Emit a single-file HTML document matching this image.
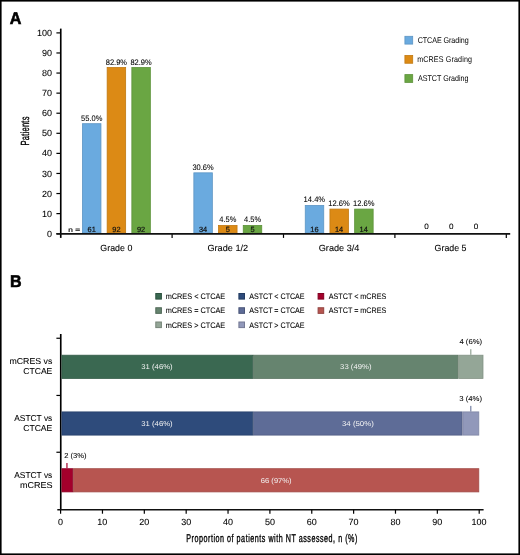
<!DOCTYPE html>
<html><head><meta charset="utf-8"><style>
html,body{margin:0;padding:0;background:#fff;}
svg{display:block;font-family:"Liberation Sans", sans-serif;will-change:transform;text-rendering:geometricPrecision;}
</style></head><body>
<svg width="520" height="555" viewBox="0 0 520 555">
<rect x="0" y="0" width="520" height="555" fill="#fff"/>
<text x="9.70" y="24.05" font-size="17.0" font-weight="bold" textLength="11.63" lengthAdjust="spacingAndGlyphs" stroke="#000" stroke-width="0.6">A</text>
<line x1="60.75" y1="28.60" x2="60.75" y2="237.90" stroke="#000" stroke-width="1.65"/>
<line x1="56.40" y1="233.70" x2="60.75" y2="233.70" stroke="#000" stroke-width="1.2"/>
<text x="47.05" y="236.80" font-size="9" textLength="5.01" lengthAdjust="spacingAndGlyphs" stroke="#000" stroke-width="0.07">0</text>
<line x1="56.40" y1="213.62" x2="60.75" y2="213.62" stroke="#000" stroke-width="1.2"/>
<text x="42.04" y="216.72" font-size="9" textLength="10.01" lengthAdjust="spacingAndGlyphs" stroke="#000" stroke-width="0.07">10</text>
<line x1="56.40" y1="193.54" x2="60.75" y2="193.54" stroke="#000" stroke-width="1.2"/>
<text x="42.04" y="196.64" font-size="9" textLength="10.01" lengthAdjust="spacingAndGlyphs" stroke="#000" stroke-width="0.07">20</text>
<line x1="56.40" y1="173.46" x2="60.75" y2="173.46" stroke="#000" stroke-width="1.2"/>
<text x="42.04" y="176.56" font-size="9" textLength="10.01" lengthAdjust="spacingAndGlyphs" stroke="#000" stroke-width="0.07">30</text>
<line x1="56.40" y1="153.38" x2="60.75" y2="153.38" stroke="#000" stroke-width="1.2"/>
<text x="42.04" y="156.48" font-size="9" textLength="10.01" lengthAdjust="spacingAndGlyphs" stroke="#000" stroke-width="0.07">40</text>
<line x1="56.40" y1="133.30" x2="60.75" y2="133.30" stroke="#000" stroke-width="1.2"/>
<text x="42.04" y="136.40" font-size="9" textLength="10.01" lengthAdjust="spacingAndGlyphs" stroke="#000" stroke-width="0.07">50</text>
<line x1="56.40" y1="113.22" x2="60.75" y2="113.22" stroke="#000" stroke-width="1.2"/>
<text x="42.04" y="116.32" font-size="9" textLength="10.01" lengthAdjust="spacingAndGlyphs" stroke="#000" stroke-width="0.07">60</text>
<line x1="56.40" y1="93.14" x2="60.75" y2="93.14" stroke="#000" stroke-width="1.2"/>
<text x="42.04" y="96.24" font-size="9" textLength="10.01" lengthAdjust="spacingAndGlyphs" stroke="#000" stroke-width="0.07">70</text>
<line x1="56.40" y1="73.06" x2="60.75" y2="73.06" stroke="#000" stroke-width="1.2"/>
<text x="42.04" y="76.16" font-size="9" textLength="10.01" lengthAdjust="spacingAndGlyphs" stroke="#000" stroke-width="0.07">80</text>
<line x1="56.40" y1="52.98" x2="60.75" y2="52.98" stroke="#000" stroke-width="1.2"/>
<text x="42.04" y="56.08" font-size="9" textLength="10.01" lengthAdjust="spacingAndGlyphs" stroke="#000" stroke-width="0.07">90</text>
<line x1="56.40" y1="32.90" x2="60.75" y2="32.90" stroke="#000" stroke-width="1.2"/>
<text x="37.04" y="36.00" font-size="9" textLength="15.02" lengthAdjust="spacingAndGlyphs" stroke="#000" stroke-width="0.07">100</text>
<line x1="172.10" y1="233.60" x2="172.10" y2="237.90" stroke="#000" stroke-width="1.2"/>
<line x1="283.50" y1="233.60" x2="283.50" y2="237.90" stroke="#000" stroke-width="1.2"/>
<line x1="394.90" y1="233.60" x2="394.90" y2="237.90" stroke="#000" stroke-width="1.2"/>
<line x1="506.30" y1="233.60" x2="506.30" y2="237.90" stroke="#000" stroke-width="1.2"/>
<text transform="translate(29.00,145.52) rotate(-90) scale(0.64,1)" x="0" y="0" font-size="11.8" textLength="45.30" lengthAdjust="spacing" stroke="#000" stroke-width="0.35">Patients</text>
<rect x="82.45" y="123.69" width="18.50" height="109.21" fill="#6aaadf" stroke="#5d95c4" stroke-width="0.8"/>
<text x="81.05" y="120.61" font-size="8" textLength="21.27" lengthAdjust="spacingAndGlyphs" stroke="#000" stroke-width="0.07">55.0%</text>
<text x="87.58" y="231.90" font-size="7.5" fill="#111" textLength="8.23" lengthAdjust="spacingAndGlyphs" stroke="#111" stroke-width="0.2">61</text>
<rect x="107.15" y="67.50" width="18.50" height="165.40" fill="#dc8a15" stroke="#c17912" stroke-width="0.8"/>
<text x="105.72" y="64.59" font-size="8" textLength="21.29" lengthAdjust="spacingAndGlyphs" stroke="#000" stroke-width="0.07">82.9%</text>
<text x="112.30" y="231.90" font-size="7.5" fill="#111" textLength="8.23" lengthAdjust="spacingAndGlyphs" stroke="#111" stroke-width="0.2">92</text>
<rect x="131.85" y="67.50" width="18.50" height="165.40" fill="#6aa643" stroke="#5d923a" stroke-width="0.8"/>
<text x="130.42" y="64.59" font-size="8" textLength="21.29" lengthAdjust="spacingAndGlyphs" stroke="#000" stroke-width="0.07">82.9%</text>
<text x="137.00" y="231.90" font-size="7.5" fill="#111" textLength="8.23" lengthAdjust="spacingAndGlyphs" stroke="#111" stroke-width="0.2">92</text>
<text x="100.35" y="250.70" font-size="9" textLength="31.99" lengthAdjust="spacingAndGlyphs" stroke="#000" stroke-width="0.07">Grade 0</text>
<rect x="193.85" y="172.83" width="18.50" height="60.07" fill="#6aaadf" stroke="#5d95c4" stroke-width="0.8"/>
<text x="192.46" y="169.61" font-size="8" textLength="21.25" lengthAdjust="spacingAndGlyphs" stroke="#000" stroke-width="0.07">30.6%</text>
<text x="198.95" y="231.90" font-size="7.5" fill="#111" textLength="8.23" lengthAdjust="spacingAndGlyphs" stroke="#111" stroke-width="0.2">34</text>
<rect x="218.55" y="225.40" width="18.50" height="7.50" fill="#dc8a15" stroke="#c17912" stroke-width="0.8"/>
<text x="219.33" y="222.01" font-size="8" textLength="17.03" lengthAdjust="spacingAndGlyphs" stroke="#000" stroke-width="0.07">4.5%</text>
<text x="225.75" y="231.90" font-size="7.5" fill="#111" textLength="4.12" lengthAdjust="spacingAndGlyphs" stroke="#111" stroke-width="0.2">5</text>
<rect x="243.25" y="225.40" width="18.50" height="7.50" fill="#6aa643" stroke="#5d923a" stroke-width="0.8"/>
<text x="244.03" y="222.01" font-size="8" textLength="17.03" lengthAdjust="spacingAndGlyphs" stroke="#000" stroke-width="0.07">4.5%</text>
<text x="250.45" y="231.90" font-size="7.5" fill="#111" textLength="4.12" lengthAdjust="spacingAndGlyphs" stroke="#111" stroke-width="0.2">5</text>
<text x="207.44" y="250.70" font-size="9" textLength="40.72" lengthAdjust="spacingAndGlyphs" stroke="#000" stroke-width="0.07">Grade 1/2</text>
<rect x="305.25" y="205.46" width="18.50" height="27.44" fill="#6aaadf" stroke="#5d95c4" stroke-width="0.8"/>
<text x="303.57" y="202.13" font-size="8" textLength="21.55" lengthAdjust="spacingAndGlyphs" stroke="#000" stroke-width="0.07">14.4%</text>
<text x="310.27" y="231.90" font-size="7.5" fill="#111" textLength="8.23" lengthAdjust="spacingAndGlyphs" stroke="#111" stroke-width="0.2">16</text>
<rect x="329.95" y="209.08" width="18.50" height="23.82" fill="#dc8a15" stroke="#c17912" stroke-width="0.8"/>
<text x="328.27" y="205.75" font-size="8" textLength="21.55" lengthAdjust="spacingAndGlyphs" stroke="#000" stroke-width="0.07">12.6%</text>
<text x="334.91" y="231.90" font-size="7.5" fill="#111" textLength="8.23" lengthAdjust="spacingAndGlyphs" stroke="#111" stroke-width="0.2">14</text>
<rect x="354.65" y="209.08" width="18.50" height="23.82" fill="#6aa643" stroke="#5d923a" stroke-width="0.8"/>
<text x="352.97" y="205.75" font-size="8" textLength="21.55" lengthAdjust="spacingAndGlyphs" stroke="#000" stroke-width="0.07">12.6%</text>
<text x="359.61" y="231.90" font-size="7.5" fill="#111" textLength="8.23" lengthAdjust="spacingAndGlyphs" stroke="#111" stroke-width="0.2">14</text>
<text x="318.74" y="250.70" font-size="9" textLength="40.73" lengthAdjust="spacingAndGlyphs" stroke="#000" stroke-width="0.07">Grade 3/4</text>
<text x="424.33" y="229.20" font-size="7.8" textLength="4.54" lengthAdjust="spacingAndGlyphs" stroke="#000" stroke-width="0.07">0</text>
<text x="449.03" y="229.20" font-size="7.8" textLength="4.54" lengthAdjust="spacingAndGlyphs" stroke="#000" stroke-width="0.07">0</text>
<text x="473.73" y="229.20" font-size="7.8" textLength="4.54" lengthAdjust="spacingAndGlyphs" stroke="#000" stroke-width="0.07">0</text>
<text x="434.61" y="250.70" font-size="9" textLength="31.92" lengthAdjust="spacingAndGlyphs" stroke="#000" stroke-width="0.07">Grade 5</text>
<text x="68.35" y="231.90" font-size="6.4" fill="#111" textLength="11.76" lengthAdjust="spacingAndGlyphs" stroke="#111" stroke-width="0.2">n =</text>
<line x1="56.40" y1="233.85" x2="510.20" y2="233.85" stroke="#111" stroke-width="1.6"/>
<rect x="404.90" y="36.30" width="7.80" height="7.80" fill="#6aaadf" stroke="#5d95c4" stroke-width="0.8"/>
<text transform="translate(417.64,42.65) scale(0.86,1)" x="0" y="0" font-size="8.3" textLength="59.33" lengthAdjust="spacing">CTCAE Grading</text>
<rect x="404.90" y="55.45" width="7.80" height="7.80" fill="#dc8a15" stroke="#c17912" stroke-width="0.8"/>
<text transform="translate(417.13,61.80) scale(0.86,1)" x="0" y="0" font-size="8.3" textLength="63.88" lengthAdjust="spacing">mCRES Grading</text>
<rect x="404.90" y="74.60" width="7.80" height="7.80" fill="#6aa643" stroke="#5d923a" stroke-width="0.8"/>
<text transform="translate(417.99,80.95) scale(0.86,1)" x="0" y="0" font-size="8.3" textLength="58.69" lengthAdjust="spacing">ASTCT Grading</text>
<text x="10.03" y="287.20" font-size="17.0" font-weight="bold" textLength="11.60" lengthAdjust="spacingAndGlyphs" stroke="#000" stroke-width="0.6">B</text>
<line x1="60.75" y1="334.00" x2="60.75" y2="510.00" stroke="#000" stroke-width="1.65"/>
<line x1="56.40" y1="338.25" x2="60.75" y2="338.25" stroke="#000" stroke-width="1.2"/>
<line x1="56.40" y1="395.45" x2="60.75" y2="395.45" stroke="#000" stroke-width="1.2"/>
<line x1="56.40" y1="452.25" x2="60.75" y2="452.25" stroke="#000" stroke-width="1.2"/>
<line x1="57.30" y1="509.80" x2="483.60" y2="509.80" stroke="#111" stroke-width="1.5"/>
<line x1="60.60" y1="509.80" x2="60.60" y2="513.70" stroke="#000" stroke-width="1.2"/>
<text x="58.10" y="525.45" font-size="9" textLength="5.01" lengthAdjust="spacingAndGlyphs" stroke="#000" stroke-width="0.07">0</text>
<line x1="102.46" y1="509.80" x2="102.46" y2="513.70" stroke="#000" stroke-width="1.2"/>
<text x="97.29" y="525.45" font-size="9" textLength="10.01" lengthAdjust="spacingAndGlyphs" stroke="#000" stroke-width="0.07">10</text>
<line x1="144.32" y1="509.80" x2="144.32" y2="513.70" stroke="#000" stroke-width="1.2"/>
<text x="139.26" y="525.45" font-size="9" textLength="10.01" lengthAdjust="spacingAndGlyphs" stroke="#000" stroke-width="0.07">20</text>
<line x1="186.18" y1="509.80" x2="186.18" y2="513.70" stroke="#000" stroke-width="1.2"/>
<text x="181.18" y="525.45" font-size="9" textLength="10.01" lengthAdjust="spacingAndGlyphs" stroke="#000" stroke-width="0.07">30</text>
<line x1="228.04" y1="509.80" x2="228.04" y2="513.70" stroke="#000" stroke-width="1.2"/>
<text x="223.11" y="525.45" font-size="9" textLength="10.01" lengthAdjust="spacingAndGlyphs" stroke="#000" stroke-width="0.07">40</text>
<line x1="269.90" y1="509.80" x2="269.90" y2="513.70" stroke="#000" stroke-width="1.2"/>
<text x="264.89" y="525.45" font-size="9" textLength="10.01" lengthAdjust="spacingAndGlyphs" stroke="#000" stroke-width="0.07">50</text>
<line x1="311.76" y1="509.80" x2="311.76" y2="513.70" stroke="#000" stroke-width="1.2"/>
<text x="306.70" y="525.45" font-size="9" textLength="10.01" lengthAdjust="spacingAndGlyphs" stroke="#000" stroke-width="0.07">60</text>
<line x1="353.62" y1="509.80" x2="353.62" y2="513.70" stroke="#000" stroke-width="1.2"/>
<text x="348.56" y="525.45" font-size="9" textLength="10.01" lengthAdjust="spacingAndGlyphs" stroke="#000" stroke-width="0.07">70</text>
<line x1="395.48" y1="509.80" x2="395.48" y2="513.70" stroke="#000" stroke-width="1.2"/>
<text x="390.45" y="525.45" font-size="9" textLength="10.01" lengthAdjust="spacingAndGlyphs" stroke="#000" stroke-width="0.07">80</text>
<line x1="437.34" y1="509.80" x2="437.34" y2="513.70" stroke="#000" stroke-width="1.2"/>
<text x="432.30" y="525.45" font-size="9" textLength="10.01" lengthAdjust="spacingAndGlyphs" stroke="#000" stroke-width="0.07">90</text>
<line x1="479.20" y1="509.80" x2="479.20" y2="513.70" stroke="#000" stroke-width="1.2"/>
<text x="471.52" y="525.45" font-size="9" textLength="15.02" lengthAdjust="spacingAndGlyphs" stroke="#000" stroke-width="0.07">100</text>
<text transform="translate(186.31,541.60) scale(0.64,1)" x="0" y="0" font-size="11.2" textLength="267.24" lengthAdjust="spacing" stroke="#000" stroke-width="0.35">Proportion of patients with NT assessed, n (%)</text>
<rect x="61.90" y="355.20" width="190.86" height="23.20" fill="#3a6851" stroke="#335b47" stroke-width="0.8"/>
<text x="141.28" y="369.00" font-size="7.1" fill="#f4f4f4" textLength="31.37" lengthAdjust="spacingAndGlyphs">31 (46%)</text>
<rect x="253.56" y="355.20" width="204.31" height="23.20" fill="#66846f" stroke="#597461" stroke-width="0.8"/>
<text x="340.12" y="369.00" font-size="7.1" fill="#f4f4f4" textLength="31.37" lengthAdjust="spacingAndGlyphs">33 (49%)</text>
<rect x="458.67" y="355.20" width="24.32" height="23.20" fill="#94a697" stroke="#829284" stroke-width="0.8"/>
<line x1="470.83" y1="349.20" x2="470.83" y2="354.80" stroke="#7d917f" stroke-width="1.0"/>
<text x="459.42" y="344.30" font-size="7.2" textLength="22.65" lengthAdjust="spacingAndGlyphs" stroke="#000" stroke-width="0.07">4 (6%)</text>
<text x="9.42" y="364.10" font-size="8.6" textLength="42.90" lengthAdjust="spacingAndGlyphs" stroke="#000" stroke-width="0.07">mCRES vs</text>
<text x="23.31" y="374.40" font-size="8.6" textLength="29.05" lengthAdjust="spacingAndGlyphs" stroke="#000" stroke-width="0.07">CTCAE</text>
<rect x="61.90" y="411.90" width="190.86" height="23.20" fill="#2e4b7b" stroke="#28426c" stroke-width="0.8"/>
<text x="141.28" y="425.70" font-size="7.1" fill="#f4f4f4" textLength="31.37" lengthAdjust="spacingAndGlyphs">31 (46%)</text>
<rect x="253.56" y="411.90" width="208.50" height="23.20" fill="#5e6c97" stroke="#525f84" stroke-width="0.8"/>
<text x="342.01" y="425.70" font-size="7.1" fill="#f4f4f4" textLength="31.78" lengthAdjust="spacingAndGlyphs">34 (50%)</text>
<rect x="462.86" y="411.90" width="15.94" height="23.20" fill="#9198ba" stroke="#7f85a3" stroke-width="0.8"/>
<line x1="470.83" y1="405.90" x2="470.83" y2="411.50" stroke="#5a6891" stroke-width="1.0"/>
<text x="459.31" y="401.30" font-size="7.2" textLength="22.77" lengthAdjust="spacingAndGlyphs" stroke="#000" stroke-width="0.07">3 (4%)</text>
<text x="14.28" y="420.80" font-size="8.6" textLength="38.02" lengthAdjust="spacingAndGlyphs" stroke="#000" stroke-width="0.07">ASTCT vs</text>
<text x="23.16" y="431.10" font-size="8.6" textLength="29.21" lengthAdjust="spacingAndGlyphs" stroke="#000" stroke-width="0.07">CTCAE</text>
<rect x="61.90" y="468.70" width="10.86" height="23.20" fill="#a3002b" stroke="#8f0025" stroke-width="0.8"/>
<rect x="73.56" y="468.70" width="405.24" height="23.20" fill="#b75550" stroke="#a14a46" stroke-width="0.8"/>
<text x="260.84" y="482.50" font-size="7.1" fill="#f4f4f4" textLength="30.75" lengthAdjust="spacingAndGlyphs">66 (97%)</text>
<line x1="66.95" y1="463.00" x2="66.95" y2="468.30" stroke="#a3002b" stroke-width="1.2"/>
<text x="64.22" y="458.40" font-size="7.2" textLength="22.25" lengthAdjust="spacingAndGlyphs" stroke="#000" stroke-width="0.07">2 (3%)</text>
<text x="14.28" y="477.60" font-size="8.6" textLength="38.02" lengthAdjust="spacingAndGlyphs" stroke="#000" stroke-width="0.07">ASTCT vs</text>
<text x="19.90" y="487.90" font-size="8.6" textLength="32.51" lengthAdjust="spacingAndGlyphs" stroke="#000" stroke-width="0.07">mCRES</text>
<rect x="155.80" y="293.50" width="5.60" height="5.60" fill="#3a6851" stroke="#2e5340" stroke-width="1.0"/>
<text x="165.71" y="299.20" font-size="8.0" textLength="59.50" lengthAdjust="spacingAndGlyphs" stroke="#000" stroke-width="0.07">mCRES &lt; CTCAE</text>
<rect x="155.80" y="307.75" width="5.60" height="5.60" fill="#66846f" stroke="#516958" stroke-width="1.0"/>
<text x="165.71" y="313.45" font-size="8.0" textLength="59.50" lengthAdjust="spacingAndGlyphs" stroke="#000" stroke-width="0.07">mCRES = CTCAE</text>
<rect x="155.80" y="322.00" width="5.60" height="5.60" fill="#94a697" stroke="#768478" stroke-width="1.0"/>
<text x="165.71" y="327.70" font-size="8.0" textLength="59.50" lengthAdjust="spacingAndGlyphs" stroke="#000" stroke-width="0.07">mCRES &gt; CTCAE</text>
<rect x="238.90" y="293.50" width="5.60" height="5.60" fill="#2e4b7b" stroke="#243c62" stroke-width="1.0"/>
<text x="249.19" y="299.20" font-size="8.0" textLength="55.42" lengthAdjust="spacingAndGlyphs" stroke="#000" stroke-width="0.07">ASTCT &lt; CTCAE</text>
<rect x="238.90" y="307.75" width="5.60" height="5.60" fill="#5e6c97" stroke="#4b5678" stroke-width="1.0"/>
<text x="249.19" y="313.45" font-size="8.0" textLength="55.42" lengthAdjust="spacingAndGlyphs" stroke="#000" stroke-width="0.07">ASTCT = CTCAE</text>
<rect x="238.90" y="322.00" width="5.60" height="5.60" fill="#9198ba" stroke="#747994" stroke-width="1.0"/>
<text x="249.19" y="327.70" font-size="8.0" textLength="55.42" lengthAdjust="spacingAndGlyphs" stroke="#000" stroke-width="0.07">ASTCT &gt; CTCAE</text>
<rect x="318.10" y="293.50" width="5.60" height="5.60" fill="#a3002b" stroke="#820022" stroke-width="1.0"/>
<text x="328.69" y="299.20" font-size="8.0" textLength="57.64" lengthAdjust="spacingAndGlyphs" stroke="#000" stroke-width="0.07">ASTCT &lt; mCRES</text>
<rect x="318.10" y="307.75" width="5.60" height="5.60" fill="#b75550" stroke="#924440" stroke-width="1.0"/>
<text x="328.69" y="313.45" font-size="8.0" textLength="57.64" lengthAdjust="spacingAndGlyphs" stroke="#000" stroke-width="0.07">ASTCT = mCRES</text>
<rect x="0.8" y="0.8" width="518.4" height="553.4" fill="none" stroke="#000" stroke-width="1.6"/>
</svg>
</body></html>
